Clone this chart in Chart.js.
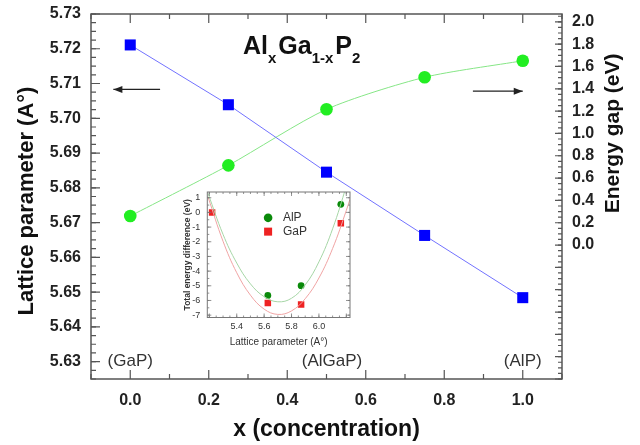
<!DOCTYPE html>
<html>
<head>
<meta charset="utf-8">
<script src="https://cdn.jsdelivr.net/npm/chart.js@4.4.1/dist/chart.umd.min.js"></script>
<style>
    body { margin: 0; background: #fff; }
    #wrap { position: relative; width: 640px; height: 445px; }
    #main { position: absolute; left: 0; top: 0; }
    #inset { position: absolute; left: 175px; top: 185px; }
</style>
</head>
<body>
<div id="wrap">
    <canvas id="main" width="640" height="445"></canvas>
    <canvas id="inset" width="180" height="165"></canvas>
</div>
<script>
// main plot
const concentration = [0, 0.25, 0.5, 0.75, 1.0]
const latticeParam = [5.7211, 5.7039, 5.6845, 5.6663, 5.6484]
const energyGap = [0.26, 0.714, 1.216, 1.503, 1.651]
const xTicks = [0, 0.2, 0.4, 0.6, 0.8, 1.0]
const leftTicks = [5.63, 5.64, 5.65, 5.66, 5.67, 5.68, 5.69, 5.70, 5.71, 5.72, 5.73]
const rightTicks = [0, 0.2, 0.4, 0.6, 0.8, 1.0, 1.2, 1.4, 1.6, 1.8, 2.0]
const phaseLabels = ['(GaP)', '(AlGaP)', '(AlP)']
const phaseX = [0, 0.514, 1.0]

// inset: total energy vs lattice parameter
const alpLattice = [5.627, 5.87, 6.16]
const alpEnergy = [-5.655, -4.99, 0.55]
const gapLattice = [5.22, 5.627, 5.87, 6.16]
const gapEnergy = [0.0, -6.18, -6.28, -0.74]
const fitLattice = [5.19, 5.3, 5.4, 5.5, 5.6, 5.7, 5.8, 5.9, 6.0, 6.1, 6.2, 6.25]
const alpFit = [1.3, -1.5, -3.45, -4.87, -5.74, -6.09, -5.85, -4.94, -3.37, -1.12, 1.8, 3.5]
const gapFit = [1.06, -1.97, -4.11, -5.64, -6.59, -6.95, -6.71, -5.88, -4.47, -2.46, 0.13, 1.6]
const insetXTicks = [5.4, 5.6, 5.8, 6.0]
const insetYTicks = [-7, -6, -5, -4, -3, -2, -1, 0, 1]

const FONT = "'Liberation Sans', Arial, sans-serif"
const frameColor = '#555'

function pts(xs, ys) {
    return xs.map((x, i) => ({x: x, y: ys[i]}))
}

// inward tick marks along a side of the chart area
function tickMarks(ctx, area, scale, values, len, side) {
    ctx.beginPath()
    values.forEach(v => {
        const p = scale.getPixelForValue(v)
        if (side === 'bottom') { ctx.moveTo(p, area.bottom); ctx.lineTo(p, area.bottom - len) }
        if (side === 'top') { ctx.moveTo(p, area.top); ctx.lineTo(p, area.top + len) }
        if (side === 'left') { ctx.moveTo(area.left, p); ctx.lineTo(area.left + len, p) }
        if (side === 'right') { ctx.moveTo(area.right, p); ctx.lineTo(area.right - len, p) }
    })
    ctx.stroke()
}

function range(a, b, step) {
    const out = []
    for (let i = a; i <= b; i++) out.push(+(i * step).toFixed(5))
    return out
}

function arrow(ctx, x1, y1, x2, y2) {
    ctx.beginPath()
    ctx.moveTo(x1, y1)
    ctx.lineTo(x2, y2)
    ctx.stroke()
    const dir = Math.sign(x2 - x1)
    ctx.beginPath()
    ctx.moveTo(x2, y2)
    ctx.lineTo(x2 - dir * 9, y2 - 3.5)
    ctx.lineTo(x2 - dir * 9, y2 + 3.5)
    ctx.closePath()
    ctx.fill()
}

// drop the extra label padding chart.js adds so the plot box lands where we want it
function noPad(s) {
    s.paddingTop = 0
    s.paddingBottom = 0
    s.paddingLeft = 0
    s.paddingRight = 0
}

const mainDecor = {
    id: 'main_decor',
    afterDraw: (chart) => {
        const ctx = chart.ctx
        const a = chart.chartArea
        const sx = chart.scales.x, sy = chart.scales.y, sy2 = chart.scales.y2
        ctx.save()
        ctx.strokeStyle = frameColor
        ctx.lineWidth = 1.5
        ctx.strokeRect(a.left, a.top, a.right - a.left, a.bottom - a.top)

        ctx.lineWidth = 1.2
        const xMinor = range(-1, 11, 0.1).filter(v => !xTicks.includes(v))
        tickMarks(ctx, a, sx, xTicks, 9, 'bottom')
        tickMarks(ctx, a, sx, xMinor, 5, 'bottom')
        tickMarks(ctx, a, sx, xTicks, 9, 'top')
        tickMarks(ctx, a, sx, xMinor, 5, 'top')
        tickMarks(ctx, a, sy, leftTicks, 9, 'left')
        tickMarks(ctx, a, sy, range(2250, 2292, 0.0025), 5, 'left')
        tickMarks(ctx, a, sy2, range(-6, 10, 0.2), 7, 'right')
        tickMarks(ctx, a, sy2, range(-24, 41, 0.05), 4, 'right')

        // phase labels
        ctx.fillStyle = '#333'
        ctx.font = '17px ' + FONT
        ctx.textAlign = 'center'
        ctx.textBaseline = 'middle'
        phaseLabels.forEach((t, i) => ctx.fillText(t, sx.getPixelForValue(phaseX[i]), sy.getPixelForValue(5.63)))

        // arrows pointing to each axis
        ctx.strokeStyle = '#222'
        ctx.fillStyle = '#222'
        ctx.lineWidth = 1.3
        arrow(ctx, sx.getPixelForValue(0.076), sy.getPixelForValue(5.7083), sx.getPixelForValue(-0.043), sy.getPixelForValue(5.7083))
        arrow(ctx, sx.getPixelForValue(0.873), sy.getPixelForValue(5.7078), sx.getPixelForValue(1.0), sy.getPixelForValue(5.7078))

        // chemical formula title
        ctx.fillStyle = '#111'
        ctx.textAlign = 'left'
        ctx.textBaseline = 'alphabetic'
        const parts = [['Al', 0], ['x', 1], ['Ga', 0], ['1-x', 1], ['P', 0], ['2', 1]]
        let tx = 243
        parts.forEach(p => {
            ctx.font = p[1] ? 'bold 15px ' + FONT : 'bold 25px ' + FONT
            ctx.fillText(p[0], tx, p[1] ? 63 : 54)
            tx += ctx.measureText(p[0]).width + (p[1] ? 2 : 0)
        })

        // axis titles
        ctx.fillStyle = '#111'
        ctx.textAlign = 'center'
        ctx.textBaseline = 'middle'
        ctx.font = 'bold 23px ' + FONT
        ctx.fillText('x (concentration)', (a.left + a.right) / 2, 430)
        ctx.save()
        ctx.translate(27, 201)
        ctx.rotate(-Math.PI / 2)
        ctx.font = 'bold 22px ' + FONT
        ctx.fillText('Lattice parameter (A°)', 0, 0)
        ctx.restore()
        ctx.save()
        ctx.translate(613, (sy2.getPixelForValue(0) + sy2.getPixelForValue(2)) / 2)
        ctx.rotate(-Math.PI / 2)
        ctx.font = 'bold 21px ' + FONT
        ctx.fillText('Energy gap (eV)', 0, 0)
        ctx.restore()
        ctx.restore()
    }
}

const tickFont = {family: FONT, size: 16, weight: 'bold'}

new Chart(document.getElementById('main'), {
    type: 'scatter',
    data: {
        datasets: [{
            label: 'Lattice parameter',
            data: pts(concentration, latticeParam),
            yAxisID: 'y',
            showLine: true,
            borderColor: '#7272ff',
            borderWidth: 1,
            pointStyle: 'rect',
            pointRadius: 7.8,
            pointBackgroundColor: '#0000ff',
            pointBorderWidth: 0,
        }, {
            label: 'Energy gap',
            data: pts(concentration, energyGap),
            yAxisID: 'y2',
            showLine: true,
            tension: 0.25,
            borderColor: '#86e686',
            borderWidth: 1,
            pointStyle: 'circle',
            pointRadius: 6.3,
            pointBackgroundColor: '#22ee22',
            pointBorderWidth: 0,
        }]
    },
    plugins: [mainDecor],
    options: {
        responsive: false,
        animation: false,
        events: [],
        layout: { padding: {top: 14, left: 0, right: 0, bottom: 0} },
        plugins: { legend: {display: false}, tooltip: {enabled: false} },
        scales: {
            x: {
                type: 'linear', min: -0.1, max: 1.1,
                grid: {display: false, drawTicks: false},
                border: {display: false},
                afterBuildTicks: s => { s.ticks = xTicks.map(v => ({value: v})) },
                afterFit: s => { s.height = 66; noPad(s) },
                ticks: {font: tickFont, color: '#222', padding: 12, maxRotation: 0, autoSkip: false,
                        callback: v => v.toFixed(1)},
            },
            y: {
                position: 'left', min: 5.625, max: 5.73,
                grid: {display: false, drawTicks: false},
                border: {display: false},
                afterBuildTicks: s => { s.ticks = leftTicks.map(v => ({value: v})) },
                afterFit: s => { s.width = 91; noPad(s) },
                ticks: {font: tickFont, color: '#222', padding: 10, autoSkip: false,
                        callback: v => v.toFixed(2)},
            },
            y2: {
                position: 'right', min: -1.2, max: 2.07,
                grid: {display: false, drawTicks: false},
                border: {display: false},
                afterBuildTicks: s => { s.ticks = rightTicks.map(v => ({value: v})) },
                afterFit: s => { s.width = 78; noPad(s) },
                ticks: {font: tickFont, color: '#222', padding: 10, autoSkip: false,
                        callback: v => v.toFixed(1)},
            }
        }
    }
})

const insetDecor = {
    id: 'inset_decor',
    afterDraw: (chart) => {
        const ctx = chart.ctx
        const a = chart.chartArea
        const sx = chart.scales.x, sy = chart.scales.y
        ctx.save()
        ctx.strokeStyle = '#777'
        ctx.lineWidth = 1
        ctx.strokeRect(a.left, a.top, a.right - a.left, a.bottom - a.top)
        ctx.lineWidth = 0.8
        const xMaj = range(26, 31, 0.2)
        const xMin = range(104, 124, 0.05)
        const yMaj = range(-7, 1, 1)
        const yMin = range(-14, 2, 0.5)
        tickMarks(ctx, a, sx, xMaj, 4, 'bottom')
        tickMarks(ctx, a, sx, xMin, 2, 'bottom')
        tickMarks(ctx, a, sx, xMaj, 4, 'top')
        tickMarks(ctx, a, sx, xMin, 2, 'top')
        tickMarks(ctx, a, sy, yMaj, 4, 'left')
        tickMarks(ctx, a, sy, yMin, 2, 'left')
        tickMarks(ctx, a, sy, yMaj, 4, 'right')
        tickMarks(ctx, a, sy, yMin, 2, 'right')

        // legend
        const lx = sx.getPixelForValue(5.629)
        const tx = sx.getPixelForValue(5.737)
        const y1 = sy.getPixelForValue(-0.37), y2 = sy.getPixelForValue(-1.31)
        ctx.fillStyle = '#0a8a0a'
        ctx.beginPath()
        ctx.arc(lx, y1, 4.3, 0, Math.PI * 2)
        ctx.fill()
        ctx.fillStyle = '#ee2222'
        ctx.fillRect(lx - 4, y2 - 4, 8, 8)
        ctx.fillStyle = '#333'
        ctx.font = '12px ' + FONT
        ctx.textAlign = 'left'
        ctx.textBaseline = 'middle'
        ctx.fillText('AlP', tx, y1)
        ctx.fillText('GaP', tx, y2)

        // titles
        ctx.textAlign = 'center'
        ctx.font = '10px ' + FONT
        ctx.fillText('Lattice parameter (A°)', (a.left + a.right) / 2, 157.5)
        ctx.save()
        ctx.translate(13, (a.top + a.bottom) / 2)
        ctx.rotate(-Math.PI / 2)
        ctx.font = 'bold 8.5px ' + FONT
        ctx.fillText('Total energy difference (eV)', 0, 0)
        ctx.restore()
        ctx.restore()
    }
}

const insetTickFont = {family: FONT, size: 9}

new Chart(document.getElementById('inset'), {
    type: 'scatter',
    data: {
        datasets: [{
            label: 'AlP fit',
            data: pts(fitLattice, alpFit),
            showLine: true,
            tension: 0.4,
            borderColor: '#a6d6a6',
            borderWidth: 1,
            pointRadius: 0,
        }, {
            label: 'GaP fit',
            data: pts(fitLattice, gapFit),
            showLine: true,
            tension: 0.4,
            borderColor: '#f0a4a4',
            borderWidth: 1,
            pointRadius: 0,
        }, {
            label: 'AlP',
            data: pts(alpLattice, alpEnergy),
            pointStyle: 'circle',
            pointRadius: 3.4,
            pointBackgroundColor: '#0a8a0a',
            pointBorderWidth: 0,
        }, {
            label: 'GaP',
            data: pts(gapLattice, gapEnergy),
            pointStyle: 'rect',
            pointRadius: 4.6,
            pointBackgroundColor: '#ee2222',
            pointBorderWidth: 0,
        }]
    },
    plugins: [insetDecor],
    options: {
        responsive: false,
        animation: false,
        events: [],
        layout: { padding: {top: 7, left: 0, right: 5, bottom: 0} },
        plugins: { legend: {display: false}, tooltip: {enabled: false} },
        scales: {
            x: {
                type: 'linear', min: 5.185, max: 6.227,
                grid: {display: false, drawTicks: false},
                border: {display: false},
                afterBuildTicks: s => { s.ticks = insetXTicks.map(v => ({value: v})) },
                afterFit: s => { s.height = 32.5; noPad(s) },
                ticks: {font: insetTickFont, color: '#333', padding: 4, maxRotation: 0, autoSkip: false,
                        callback: v => v.toFixed(1)},
            },
            y: {
                min: -7.16, max: 1.39,
                grid: {display: false, drawTicks: false},
                border: {display: false},
                afterBuildTicks: s => { s.ticks = insetYTicks.map(v => ({value: v})) },
                afterFit: s => { s.width = 32.3; noPad(s) },
                ticks: {font: insetTickFont, color: '#333', padding: 7, autoSkip: false},
            }
        }
    }
})
</script>
</body>
</html>
